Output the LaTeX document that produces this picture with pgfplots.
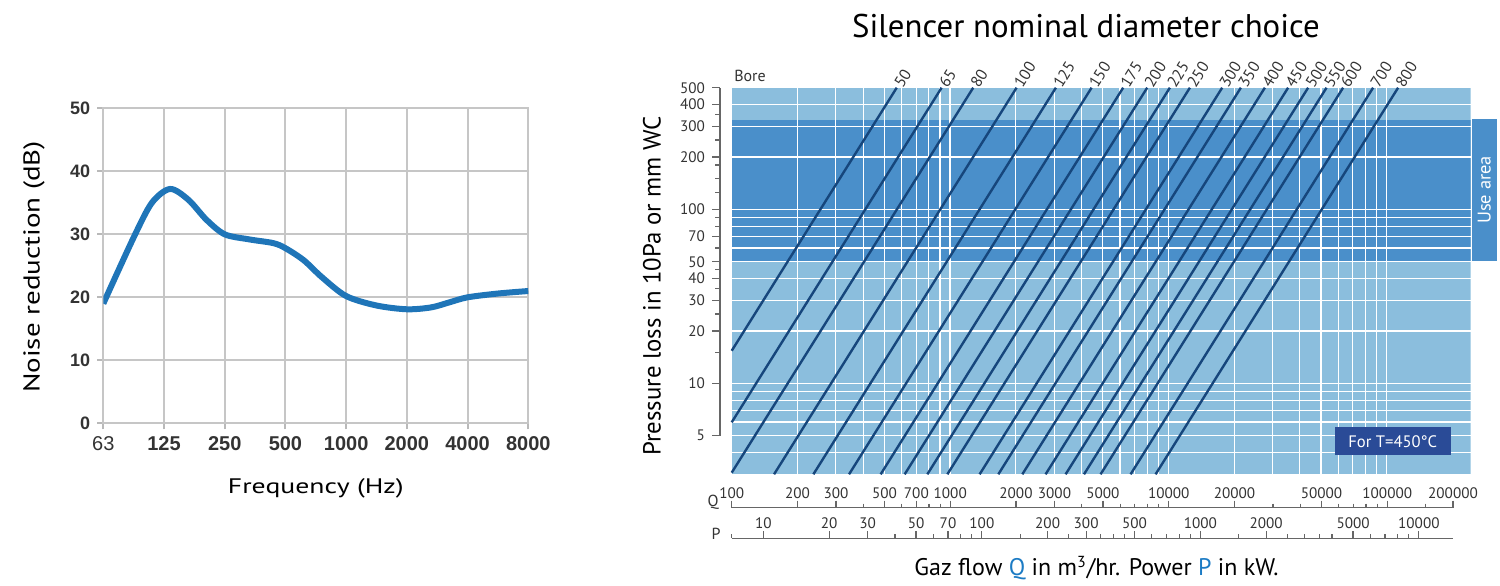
\documentclass[border=0pt]{standalone}
\usepackage{pgfplots}
\pgfplotsset{compat=1.18}
\usepackage{fontspec}
\setmainfont{PT Sans}
\newfontfamily\arial{Liberation Sans}
\definecolor{curveblue}{HTML}{1F75B8}
\definecolor{lightband}{HTML}{8BBEDD}
\definecolor{darkband}{HTML}{4A8FCA}
\definecolor{boreline}{HTML}{16467C}
\definecolor{navybox}{HTML}{2A4B97}
\definecolor{qblue}{HTML}{1C7BC4}
\definecolor{axisgray}{HTML}{666666}
\definecolor{labelgray}{HTML}{333333}
\tikzset{
  bore/.style={boreline, line width=1.2pt},
  lbl/.style={anchor=west, rotate=58, inner sep=1pt,
    font=\fontsize{8}{9}\selectfont, text=labelgray},
}

\begin{document}
\begin{tikzpicture}
\path[use as bounding box] (0,0) rectangle (750pt,-292.5pt);

% ---------- left: noise reduction curve ----------
\begin{axis}[
  at={(51.65pt,-211.65pt)}, anchor=south west,
  scale only axis, width=212.5pt, height=157.5pt,
  xmin=0, xmax=7, ymin=0, ymax=50,
  xtick={0,...,7},
  xticklabels={{\mdseries 63},125,250,500,1000,2000,4000,8000},
  ytick={0,10,20,30,40,50},
  yticklabels={0,10,20,30,40,50},
  grid=major,
  grid style={gray!45, line width=1pt},
  axis line style={gray!45, line width=1pt},
  tick style={gray!55, line width=1pt},
  tick align=outside, major tick length=3pt, tick pos=left,
  xticklabel style={font=\arial\bfseries\fontsize{10}{11}\selectfont, text=labelgray},
  yticklabel style={font=\arial\bfseries\fontsize{9}{10}\selectfont, text=labelgray},
]
\addplot[curveblue, line width=3pt, smooth, tension=0.5] coordinates {
  (0,19) (0.5,29.5) (0.8,35) (1.1,37.2) (1.4,35.5) (1.7,32.3) (2,30)
  (2.4,29.2) (2.8,28.6) (3,27.8) (3.3,25.9) (3.6,23.2) (4,20.2)
  (4.5,18.7) (5,18.1) (5.4,18.4) (5.7,19.2) (6,20) (6.5,20.6) (7,21)
};
\end{axis}
\node[font=\fontsize{10.5}{12}\selectfont, xscale=1.32] at (157.9pt,-244pt) {Frequency (Hz)};
\node[font=\fontsize{11.5}{13}\selectfont, rotate=90, xscale=1.26] at (17pt,-133.5pt) {Noise reduction (dB)};

% ---------- right: background bands ----------
\begin{axis}[
  at={(365.85pt,-237.15pt)}, anchor=south west,
  scale only axis, width=369.4pt, height=193.3pt,
  xmode=log, ymode=log,
  xmin=100, xmax=242000, ymin=3, ymax=500,
  hide axis,
]
\addplot[fill=lightband, draw=none]
  coordinates {(100,3) (242000,3) (242000,500) (100,500)} -- cycle;
\addplot[fill=darkband, draw=none]
  coordinates {(100,50) (242000,50) (242000,325) (100,325)} -- cycle;
\end{axis}

% ---------- right: grid and bore lines ----------
\begin{axis}[
  at={(365.85pt,-237.15pt)}, anchor=south west,
  scale only axis, width=369.4pt, height=193.3pt,
  xmode=log, ymode=log,
  xmin=100, xmax=242000, ymin=3, ymax=500,
  axis line style={draw=none},
  major tick length=0pt, minor tick length=0pt,
  xticklabels={}, yticklabels={},
  grid=both,
  major grid style={white, line width=0.7pt},
  minor grid style={white, line width=0.6pt},
  clip=false,
]
\addplot[bore] coordinates {(100,15.39) (570,500)};
\addplot[bore] coordinates {(100,5.97) (915,500)};
\addplot[bore] coordinates {(100,3.066) (1277,500)};
\addplot[bore] coordinates {(156.3,3) (2018,500)};
\addplot[bore] coordinates {(236.6,3) (3054,500)};
\addplot[bore] coordinates {(344.7,3) (4450,500)};
\addplot[bore] coordinates {(481.0,3) (6209,500)};
\addplot[bore] coordinates {(619.7,3) (8000,500)};
\addplot[bore] coordinates {(787.0,3) (10160,500)};
\addplot[bore] coordinates {(972.1,3) (12550,500)};
\addplot[bore] coordinates {(1366,3) (17640,500)};
\addplot[bore] coordinates {(1664,3) (21480,500)};
\addplot[bore] coordinates {(2143,3) (27670,500)};
\addplot[bore] coordinates {(2739,3) (35360,500)};
\addplot[bore] coordinates {(3383,3) (43670,500)};
\addplot[bore] coordinates {(4107,3) (53020,500)};
\addplot[bore] coordinates {(4892,3) (63150,500)};
\addplot[bore] coordinates {(6713,3) (86660,500)};
\addplot[bore] coordinates {(8737,3) (112800,500)};
\node[lbl] at (axis cs:570,500) {50};
\node[lbl] at (axis cs:915,500) {65};
\node[lbl] at (axis cs:1277,500) {80};
\node[lbl] at (axis cs:2018,500) {100};
\node[lbl] at (axis cs:3054,500) {125};
\node[lbl] at (axis cs:4450,500) {150};
\node[lbl] at (axis cs:6209,500) {175};
\node[lbl] at (axis cs:8000,500) {200};
\node[lbl] at (axis cs:10160,500) {225};
\node[lbl] at (axis cs:12550,500) {250};
\node[lbl] at (axis cs:17640,500) {300};
\node[lbl] at (axis cs:21480,500) {350};
\node[lbl] at (axis cs:27670,500) {400};
\node[lbl] at (axis cs:35360,500) {450};
\node[lbl] at (axis cs:43670,500) {500};
\node[lbl] at (axis cs:53020,500) {550};
\node[lbl] at (axis cs:63150,500) {600};
\node[lbl] at (axis cs:86660,500) {700};
\node[lbl] at (axis cs:112800,500) {800};
\end{axis}

% pressure scale
\begin{axis}[
  at={(360pt,-217.85pt)}, anchor=south west,
  scale only axis, width=5pt, height=174pt,
  ymode=log, ymin=5, ymax=500, xmin=0, xmax=1,
  axis x line=none, axis y line*=left,
  ytick={5,10,20,30,40,50,70,100,200,300,400,500},
  yticklabels={5,10,20,30,40,50,70,100,200,300,400,500},
  minor ytick={15,25,35,45,60,80,90,125,150,180,250,350},
  tick align=outside, major tick length=4pt, minor tick length=2.5pt,
  axis line style={axisgray, line width=0.6pt},
  tick style={axisgray, line width=0.6pt},
  ticklabel style={font=\fontsize{7.6}{9}\selectfont, text=labelgray},
]
\end{axis}

% Q scale
\begin{axis}[
  at={(365.85pt,-253.85pt)}, anchor=north west,
  scale only axis, width=360.65pt, height=2pt,
  xmode=log, xmin=100, xmax=200000, ymin=0, ymax=1,
  axis y line=none, axis x line*=top,
  xtick={100,200,300,500,700,1000,2000,3000,5000,10000,20000,50000,100000,200000},
  xticklabels={100,200,300,500,700,1000,2000,3000,5000,10000,20000,50000,100000,200000},
  minor xtick={400,600,800,900,4000,6000,7000,8000,9000,30000,40000,60000,70000,80000,90000,150000},
  tick align=outside, major tick length=3.5pt, minor tick length=2pt,
  axis line style={axisgray, line width=0.6pt},
  tick style={axisgray, line width=0.6pt},
  ticklabel style={font=\fontsize{7.6}{9}\selectfont, text=labelgray, inner sep=1pt},
]
\end{axis}

% P scale
\begin{axis}[
  at={(365.85pt,-269.15pt)}, anchor=north west,
  scale only axis, width=360.65pt, height=2pt,
  xmode=log, xmin=7.165, xmax=14330, ymin=0, ymax=1,
  axis y line=none, axis x line*=top,
  xtick={10,20,30,50,70,100,200,300,500,1000,2000,5000,10000},
  xticklabels={10,20,30,50,70,100,200,300,500,1000,2000,5000,10000},
  minor xtick={7.17,40,60,80,90,150,250,350,400,450,600,700,800,900,1500,2500,3000,3500,4000,6000,7000,8000,9000},
  tick align=outside, major tick length=3.5pt, minor tick length=2pt,
  axis line style={axisgray, line width=0.6pt},
  tick style={axisgray, line width=0.6pt},
  ticklabel style={font=\fontsize{7.6}{9}\selectfont, text=labelgray, inner sep=1pt},
]
\end{axis}

\node[font=\fontsize{16.4}{18}\selectfont] at (543pt,-13pt) {Silencer nominal diameter choice};
\node[font=\fontsize{8}{9}\selectfont, text=labelgray] at (375pt,-38pt) {Bore};
\node[font=\fontsize{12.4}{14}\selectfont, rotate=90] at (326pt,-143pt) {Pressure loss in 10Pa or mm WC};
\node[font=\fontsize{8}{9}\selectfont, text=labelgray] at (356.5pt,-250.9pt) {Q};
\node[font=\fontsize{8}{9}\selectfont, text=labelgray] at (358pt,-266.9pt) {P};
\node[font=\fontsize{12}{14}\selectfont] at (548.25pt,-284pt)
  {Gaz flow \textcolor{qblue}{Q} in m\textsuperscript{3}/hr. Power \textcolor{qblue}{P} in kW.};
\node[fill=darkband, text=white, rotate=90, minimum width=70.7pt, minimum height=12.5pt,
  inner sep=0pt, font=\fontsize{9.2}{10}\selectfont] at (742.1pt,-95pt) {Use area};
\node[fill=navybox, text=white, minimum width=57.85pt, minimum height=13.85pt,
  inner sep=0pt, font=\fontsize{8.3}{9}\selectfont] at (696.4pt,-220.6pt) {For T=450°C};
\end{tikzpicture}
\end{document}
